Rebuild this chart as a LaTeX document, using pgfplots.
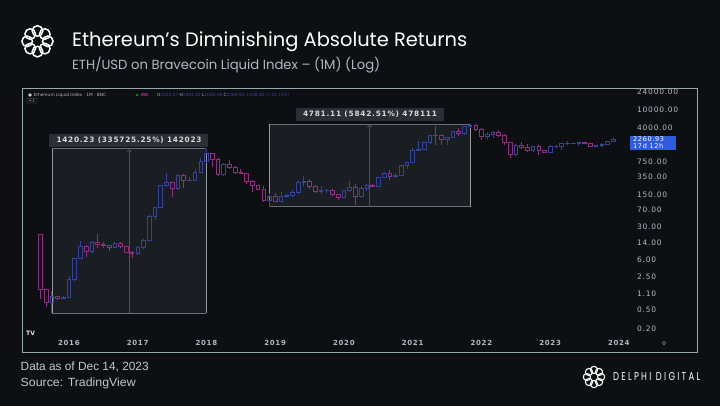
\documentclass[border=0pt]{standalone}
\usepackage{pgfplots}
\pgfplotsset{compat=1.18}
\usepackage{pgfplotstable}
\usepackage{graphicx}
\usepackage{fontspec}
\setmainfont{DejaVu Sans}
\newfontfamily\poppins{Poppins}
\newfontfamily\tvfont[LetterSpace=10]{DejaVu Sans}
\newfontfamily\libs{Liberation Sans}
\usetikzlibrary{arrows.meta}
\definecolor{bg}{HTML}{0D0F12}
\definecolor{upc}{HTML}{34449C}
\definecolor{dnc}{HTML}{902F80}
\definecolor{tick}{HTML}{B4B8BC}
\definecolor{frame}{HTML}{93A9AE}
\definecolor{mbox}{HTML}{1A1D21}
\definecolor{mline}{HTML}{6A6F74}
\definecolor{mlab}{HTML}{2B2E33}
\definecolor{tag}{HTML}{2F5BE0}

\pgfplotstableread{
i o h l c
0 21 21.5 0.85 1.35
1 1.35 1.40 0.56 0.74
2 0.74 1.25 0.42 0.95
3 0.95 1.00 0.82 0.88
4 0.88 0.97 0.84 0.93
5 0.93 2.60 0.93 2.20
6 2.20 6.60 2.10 6.30
7 6.30 15.0 6.00 11.4
8 11.4 12.5 6.90 8.80
9 8.80 15.0 8.30 14.0
10 14.0 21.5 10.5 12.4
11 12.4 14.4 10.6 11.8
12 11.8 12.3 9.00 11.2
13 11.2 14.3 11.0 13.2
14 13.2 14.4 10.6 11.3
15 11.3 11.5 8.50 8.70
16 8.70 9.10 6.60 8.00
17 8.00 11.4 7.90 10.7
18 10.7 16.6 10.4 15.7
19 15.7 55.0 15.2 50.0
20 50.0 80.0 42.0 79.8
21 79.8 232 78 230
22 230 420 213 275
23 275 280 134 200
24 200 400 190 388
25 388 400 200 302
26 302 350 285 305
27 305 520 290 447
28 447 880 420 756
29 756 1420 720 1118
30 1118 1160 575 857
31 857 880 370 397
32 397 700 365 670
33 670 835 520 577
34 577 620 410 453
35 453 515 425 433
36 433 435 250 282
37 282 300 168 233
38 233 235 190 197
39 197 225 102 113
40 113 160 82 133
41 133 160 101 107
42 107 165 102 136
43 136 149 127 141
44 141 185 140 162
45 162 285 160 268
46 268 365 230 291
47 291 320 195 218
48 218 240 163 172
49 172 222 152 180
50 180 198 157 183
51 183 195 136 152
52 152 155 116 130
53 130 185 127 180
54 180 288 175 217
55 217 250 90 133
56 133 227 130 206
57 206 245 176 231
58 231 255 216 225
59 225 350 222 345
60 345 445 340 434
61 434 488 308 360
62 360 420 335 386
63 386 622 382 616
64 616 755 535 737
65 737 1475 715 1314
66 1314 2040 1300 1416
67 1416 1945 1400 1918
68 1918 2800 1900 2773
69 2773 4380 1720 2706
70 2706 2900 1700 2275
71 2275 2550 1720 2536
72 2536 3470 2450 3433
73 3433 4030 2650 3001
74 3001 4460 2970 4288
75 4288 4868 3950 4631
76 4631 4780 3500 3683
77 3683 3900 2160 2688
78 2688 3280 2300 2920
79 2920 3480 2450 3282
80 3282 3580 2700 2730
81 2730 2960 1700 1942
82 1942 1970 880 1067
83 1067 1780 1000 1678
84 1678 2030 1420 1553
85 1553 1790 1220 1328
86 1328 1660 1190 1572
87 1572 1680 1070 1296
88 1296 1350 1160 1196
89 1196 1680 1190 1586
90 1586 1740 1460 1605
91 1605 1850 1370 1822
92 1822 2140 1760 1869
93 1869 1930 1760 1874
94 1874 1950 1620 1934
95 1934 2030 1830 1857
96 1857 1880 1550 1645
97 1645 1750 1535 1671
98 1671 1865 1520 1814
99 1814 2135 1770 2051
100 2053.27 2401.82 2046.46 2260.93
}\ohlc

\begin{document}
\begin{tikzpicture}
\useasboundingbox (0,0) rectangle (720pt,-406pt);
\fill[bg] (0,0) rectangle (720pt,-406pt);

% logo
\begin{scope}[shift={(37.5pt,-41.3pt)}]
\foreach \a in {0,45,...,315}{\draw[white,line width=1.5pt] (\a:10.3pt) circle (5.3pt);}
\end{scope}
% title
\node[anchor=west,inner sep=0pt,text=white] at (72pt,-42pt)
  {\resizebox{395pt}{!}{\poppins Ethereum’s Diminishing Absolute Returns}};
\node[anchor=west,inner sep=0pt,text=tick] at (72pt,-65pt)
  {\resizebox{308pt}{!}{\poppins ETH/USD on Bravecoin Liquid Index – (1M) (Log)}};

% measurement boxes
\fill[mbox] (51.7pt,-148.8pt) rectangle (206.4pt,-313.1pt);
\draw[mline,line width=0.7pt] (51.7pt,-148.8pt) -- (206.4pt,-148.8pt);
\draw[mline,line width=0.7pt] (51.7pt,-313.1pt) -- (206.4pt,-313.1pt);
\draw[mline!70,line width=0.4pt] (51.7pt,-148.8pt) -- (51.7pt,-313.1pt);
\draw[mline!70,line width=0.4pt] (206.4pt,-148.8pt) -- (206.4pt,-313.1pt);
\draw[mline!120,line width=0.7pt,-{Straight Barb[length=2pt,width=5pt]}] (129pt,-313.1pt) -- (129pt,-149.5pt);
\fill[mlab] (49.3pt,-134.3pt) rectangle (208.3pt,-146.7pt);
\node[inner sep=0pt,text=white!85!black] at (129pt,-140.5pt)
  {\resizebox{145pt}{5.6pt}{\tvfont\bfseries 1420.23 (335725.25\%) 142023}};

\fill[mbox] (269.4pt,-123.9pt) rectangle (470pt,-206.6pt);
\draw[mline,line width=0.7pt] (269.4pt,-123.9pt) -- (470pt,-123.9pt);
\draw[mline,line width=0.7pt] (269.4pt,-206.6pt) -- (470pt,-206.6pt);
\draw[mline!70,line width=0.4pt] (269.4pt,-123.9pt) -- (269.4pt,-206.6pt);
\draw[mline!70,line width=0.4pt] (470pt,-123.9pt) -- (470pt,-206.6pt);
\draw[mline!120,line width=0.7pt,-{Straight Barb[length=2pt,width=5pt]}] (369.7pt,-206.6pt) -- (369.7pt,-124.6pt);
\fill[mlab] (296pt,-108pt) rectangle (444pt,-120.7pt);
\node[inner sep=0pt,text=white!85!black] at (370pt,-114.4pt)
  {\resizebox{134pt}{5.6pt}{\tvfont\bfseries 4781.11 (5842.51\%) 478111}};

\begin{axis}[
  at={(22pt,-335pt)}, anchor=south west,
  scale only axis, width=610pt, height=247pt,
  xmin=-3.18, xmax=103.3,
  ymode=log, ymin=0.1435, ymax=28650,
  axis line style={draw=none},
  major tick length=0pt, minor tick length=0pt,
  ytick={0.2,0.5,1.1,2.5,6,14,30,70,150,350,750,4000,10000,24000},
  yticklabels={0.20,0.50,1.10,2.50,6.00,14.00,30.00,70.00,150.00,350.00,750.00,4000.00,10000.00,24000.00},
  yticklabel pos=right,
  yticklabel style={anchor=west,inner sep=0pt,xshift=5pt,text=tick,font=\tvfont\fontsize{7.5}{8}\selectfont},
  xtick={5,17,29,41,53,65,77,89,101},
  xticklabels={2016,2017,2018,2019,2020,2021,2022,2023,2024},
  xticklabel style={anchor=center,inner sep=0pt,yshift=-8pt,text=tick,font=\tvfont\bfseries\fontsize{7}{8}\selectfont},
  clip=false,
]
\pgfplotstablegetrowsof{\ohlc}
\pgfmathtruncatemacro{\lastrow}{\pgfplotsretval-1}
\pgfplotsforeachungrouped \r in {0,...,\lastrow}{%
  \pgfplotstablegetelem{\r}{i}\of\ohlc\let\ci\pgfplotsretval
  \pgfplotstablegetelem{\r}{o}\of\ohlc\let\cO\pgfplotsretval
  \pgfplotstablegetelem{\r}{h}\of\ohlc\let\cH\pgfplotsretval
  \pgfplotstablegetelem{\r}{l}\of\ohlc\let\cL\pgfplotsretval
  \pgfplotstablegetelem{\r}{c}\of\ohlc\let\cC\pgfplotsretval
  \pgfmathsetmacro{\xL}{\ci-0.32}%
  \pgfmathsetmacro{\xR}{\ci+0.32}%
  \pgfmathsetmacro{\bT}{max(\cO,\cC)}%
  \pgfmathsetmacro{\bB}{min(\cO,\cC)}%
  \ifdim\cC pt<\cO pt \def\col{dnc}\else\def\col{upc}\fi
  \edef\cmd{%
    \noexpand\addplot[draw=\col,line width=0.55pt,forget plot] coordinates {(\xL,\cO)(\xR,\cO)(\xR,\cC)(\xL,\cC)} -- cycle;
    \noexpand\addplot[draw=\col,line width=0.55pt,forget plot] coordinates {(\ci,\bT)(\ci,\cH)};
    \noexpand\addplot[draw=\col,line width=0.55pt,forget plot] coordinates {(\ci,\bB)(\ci,\cL)};
  }%
  \cmd
}
\end{axis}

% mask above frame and frame
\fill[bg] (600pt,-80pt) rectangle (710pt,-88pt);
\draw[frame,line width=0.8pt] (22pt,-88pt) rectangle (697pt,-352pt);

% header inside frame
\fill[white!80!black] (30pt,-95pt) circle (1.8pt);
\node[anchor=west,inner sep=0pt,text=tick] at (33.5pt,-95pt)
  {\fontsize{4.3}{5}\selectfont Ethereum Liquid Index · 1M · BNC};
\fill[green!60!black] (137pt,-95pt) circle (1.3pt);
\fill[dnc!70!black] (140.5pt,-93.5pt) rectangle (148pt,-96.5pt);
\node[anchor=west,inner sep=0pt,text=upc] at (157pt,-95pt)
  {\fontsize{4.3}{5}\selectfont {\color{tick}O}2053.27 {\color{tick}H}2401.82 {\color{tick}L}2046.46 {\color{tick}C}2260.93 +208.40 (+10.15\%)};
\draw[tick!60!black,line width=0.3pt,rounded corners=0.5pt] (27pt,-98.5pt) rectangle (37pt,-103pt);
\node[inner sep=0pt,text=tick] at (32pt,-100.8pt) {\fontsize{3.5}{4}\selectfont ▾ 3};

% price tag
\fill[tag] (630pt,-135.7pt) rectangle (676pt,-150pt);
\node[anchor=west,inner sep=0pt,text=white] at (633pt,-139.5pt) {\tvfont\fontsize{6.5}{7}\selectfont 2260.93};
\node[anchor=west,inner sep=0pt,text=white] at (633pt,-146.3pt) {\tvfont\fontsize{6.5}{7}\selectfont 17d 12h};

% TV logo and settings icon
\node[anchor=west,inner sep=0pt,text=white!90!black] at (26pt,-333pt) {\fontsize{6}{7}\selectfont\bfseries TV};
\draw[tick!70!black,line width=0.6pt] (664pt,-343pt) circle (1.8pt);

% footer
\node[anchor=west,inner sep=0pt,text=white!78!black] at (20.5pt,-367pt)
  {\resizebox{128pt}{8.6pt}{\libs Data as of Dec 14, 2023}};
\node[anchor=west,inner sep=0pt,text=white!78!black] at (20.5pt,-383pt)
  {\resizebox{115pt}{8.6pt}{\libs Source: TradingView}};
\begin{scope}[shift={(594pt,-377pt)}]
\foreach \a in {0,45,...,315}{\draw[white,line width=1.1pt] (\a:7.1pt) circle (3.6pt);}
\end{scope}
\node[anchor=west,inner sep=0pt,text=white] at (613pt,-377pt)
  {\resizebox{87pt}{8pt}{\poppins D E L P H I \ D I G I T A L}};
\end{tikzpicture}
\end{document}
